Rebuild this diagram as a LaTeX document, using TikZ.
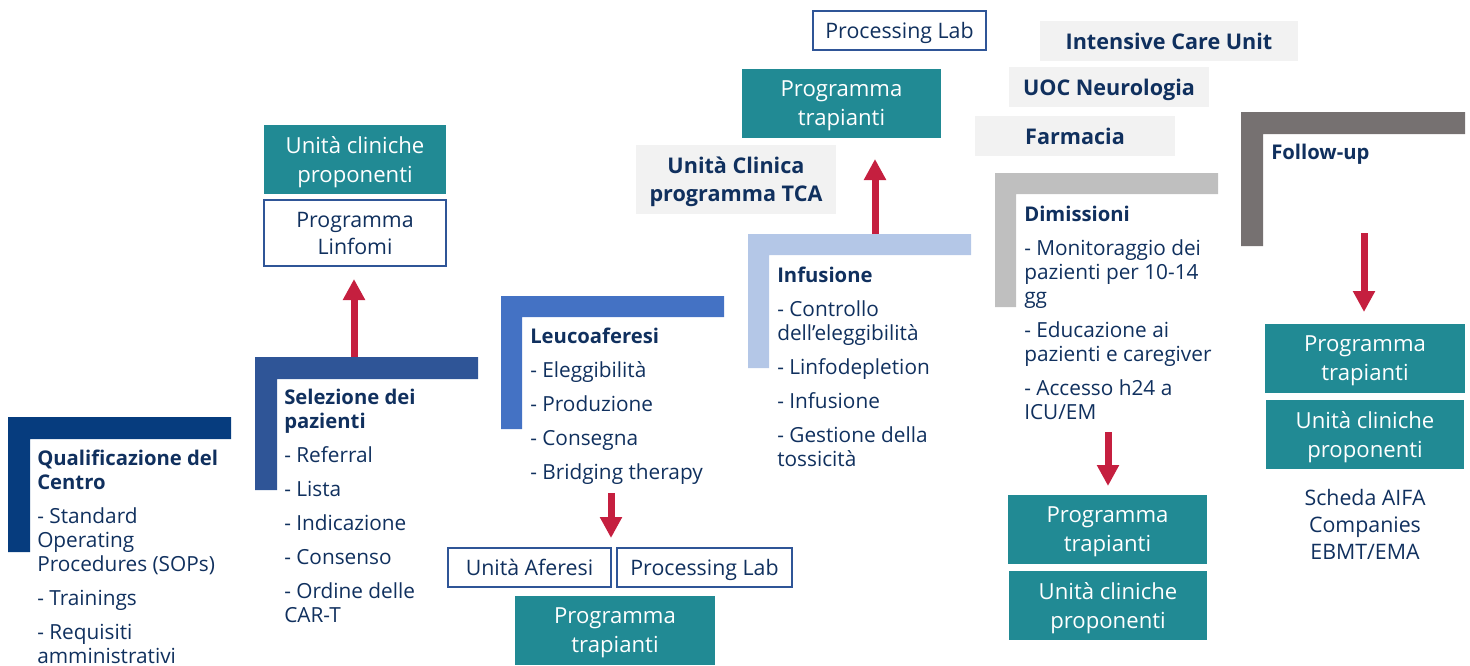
\documentclass[tikz,border=0pt]{standalone}
\usepackage{fontspec}
\setmainfont{Open Sans}
\usetikzlibrary{arrows.meta}
\definecolor{tealc}{HTML}{218A94}
\definecolor{navytext}{HTML}{10305E}
\definecolor{boxline}{HTML}{2F5597}
\definecolor{grayc}{HTML}{F2F2F2}
\definecolor{arrowc}{HTML}{C51F3F}
\definecolor{bA}{HTML}{063C7E}
\definecolor{bB}{HTML}{2F5597}
\definecolor{bC}{HTML}{4472C4}
\definecolor{bD}{HTML}{B4C7E7}
\definecolor{bE}{HTML}{BFBFBF}
\definecolor{bF}{HTML}{767171}
\newcommand{\bracketshape}[6]{% color, x0, y0, x1, yb, t
  \fill[#1] (#2,#3) -- (#4,#3) -- (#4,#3+#6) -- (#2+#6,#3+#6) -- (#2+#6,#5) -- (#2,#5) -- cycle;}
\newcommand{\pg}{\\[7.5pt]}
\newcommand{\hd}[1]{{\fontsize{15.2}{18}\selectfont\bfseries #1}}
\tikzset{
  tealbox/.style={fill=tealc, text=white, inner sep=0pt, align=center, text depth=0pt, font=\fontsize{16.6}{21.75}\selectfont},
  whitebox/.style={draw=boxline, line width=0.9pt, fill=white, text=navytext, inner sep=0pt, align=center, text depth=0pt, font=\fontsize{16}{20.25}\selectfont},
  graybox/.style={fill=grayc, text=navytext, inner sep=0pt, align=center, text depth=0pt, font=\bfseries\fontsize{16.2}{21}\selectfont},
  flow/.style={draw=arrowc, line width=5.25pt, -{Triangle[width=15.75pt,length=15.75pt]}},
  listtext/.style={anchor=base west, inner sep=0pt, text=navytext, font=\fontsize{15.6}{18}\selectfont},
}
\begin{document}
\begin{tikzpicture}[x=0.75pt,y=-0.75pt]
\useasboundingbox (0,0) rectangle (1470,665);

% brackets
\bracketshape{bA}{8}{417}{231}{552}{22}
\bracketshape{bB}{255}{357}{478}{490}{22}
\bracketshape{bC}{501}{296}{724}{429}{21}
\bracketshape{bD}{748}{234}{971}{368}{21}
\bracketshape{bE}{995}{173}{1218}{307}{21}
\bracketshape{bF}{1241}{112}{1465}{246}{22}

% bracket texts
\node[listtext] (qual) at (37,465) {\parbox[t]{190pt}{\raggedright
  \hd{Qualificazione del}\\\hd{Centro}\pg
  - Standard\\Operating\\Procedures (SOPs)\pg
  - Trainings\pg
  - Requisiti\\amministrativi}};
\node[listtext] (sel) at (284,404) {\parbox[t]{160pt}{\raggedright
  \hd{Selezione dei}\\\hd{pazienti}\pg
  - Referral\pg - Lista\pg - Indicazione\pg - Consenso\pg
  - Ordine delle\\CAR-T}};
\node[listtext] (leu) at (530,343) {\parbox[t]{160pt}{\raggedright
  \hd{Leucoaferesi}\pg
  - Eleggibilità\pg - Produzione\pg - Consegna\pg - Bridging therapy}};
\node[listtext] (inf) at (777,282) {\parbox[t]{160pt}{\raggedright
  \hd{Infusione}\pg
  - Controllo\\dell’eleggibilità\pg
  - Linfodepletion\pg - Infusione\pg
  - Gestione della\\tossicità}};
\node[listtext] (dim) at (1024,221) {\parbox[t]{160pt}{\raggedright
  \hd{Dimissioni}\pg
  - Monitoraggio dei\\pazienti per 10-14\\gg\pg
  - Educazione ai\\pazienti e caregiver\pg
  - Accesso h24 a\\ICU/EM}};
\node[listtext] (fol) at (1271,159) {\hd{Follow-up}};

% boxes
\node[tealbox, minimum width=136.5pt, minimum height=51.75pt] (ucp1) at (355,159.5) {Unità cliniche\\proponenti};
\node[whitebox, minimum width=136.5pt, minimum height=49.5pt] (linf) at (355,233) {Programma\\Linfomi};

\node[whitebox, minimum width=122.25pt, minimum height=29.25pt] (afer) at (529.5,567.5) {Unità Aferesi};
\node[whitebox, minimum width=131.25pt, minimum height=29.25pt] (plab1) at (704.5,567.5) {Processing Lab};
\node[tealbox, minimum width=150pt, minimum height=51.75pt] (pt1) at (615,630.5) {Programma\\trapianti};

\node[whitebox, minimum width=129.75pt, minimum height=29.25pt] (plab2) at (899.5,30.5) {Processing Lab};
\node[tealbox, minimum width=149.25pt, minimum height=51.75pt] (pt2) at (841.5,103.5) {Programma\\trapianti};
\node[graybox, minimum width=150pt, minimum height=51.75pt] (tca) at (736,179.5) {Unità Clinica\\programma TCA};

\node[graybox, minimum width=193.5pt, minimum height=30pt] (icu) at (1169,41) {Intensive Care Unit};
\node[graybox, minimum width=150pt, minimum height=30pt] (neuro) at (1109,87) {UOC Neurologia};
\node[graybox, minimum width=150pt, minimum height=30pt] (farm) at (1075,136) {Farmacia};

\node[tealbox, minimum width=149.25pt, minimum height=51.75pt] (pt3) at (1107.5,529.5) {Programma\\trapianti};
\node[tealbox, minimum width=148.5pt, minimum height=51.75pt] (ucp2) at (1108,605.5) {Unità cliniche\\proponenti};

\node[tealbox, minimum width=150pt, minimum height=51.75pt] (pt4) at (1365,358.5) {Programma\\trapianti};
\node[tealbox, minimum width=148.5pt, minimum height=51.75pt] (ucp3) at (1365,434.5) {Unità cliniche\\proponenti};
\node[text=navytext, inner sep=0pt, align=center, font=\fontsize{16}{20.25}\selectfont] (aifa) at (1365,524) {Scheda AIFA\\Companies\\EBMT/EMA};

% arrow anchor coordinates
\coordinate (a1s) at (354,357); \coordinate (a1e) at (354,279);
\coordinate (a2s) at (611,493); \coordinate (a2e) at (611,538);
\coordinate (a3s) at (875,234); \coordinate (a3e) at (875,159);
\coordinate (a4s) at (1108,432); \coordinate (a4e) at (1108,486);
\coordinate (a5s) at (1364,233); \coordinate (a5e) at (1364,312);

\draw[flow] (a1s) -- (a1e);
\draw[flow] (a2s) -- (a2e);
\draw[flow] (a3s) -- (a3e);
\draw[flow] (a4s) -- (a4e);
\draw[flow] (a5s) -- (a5e);
\end{tikzpicture}
\end{document}
